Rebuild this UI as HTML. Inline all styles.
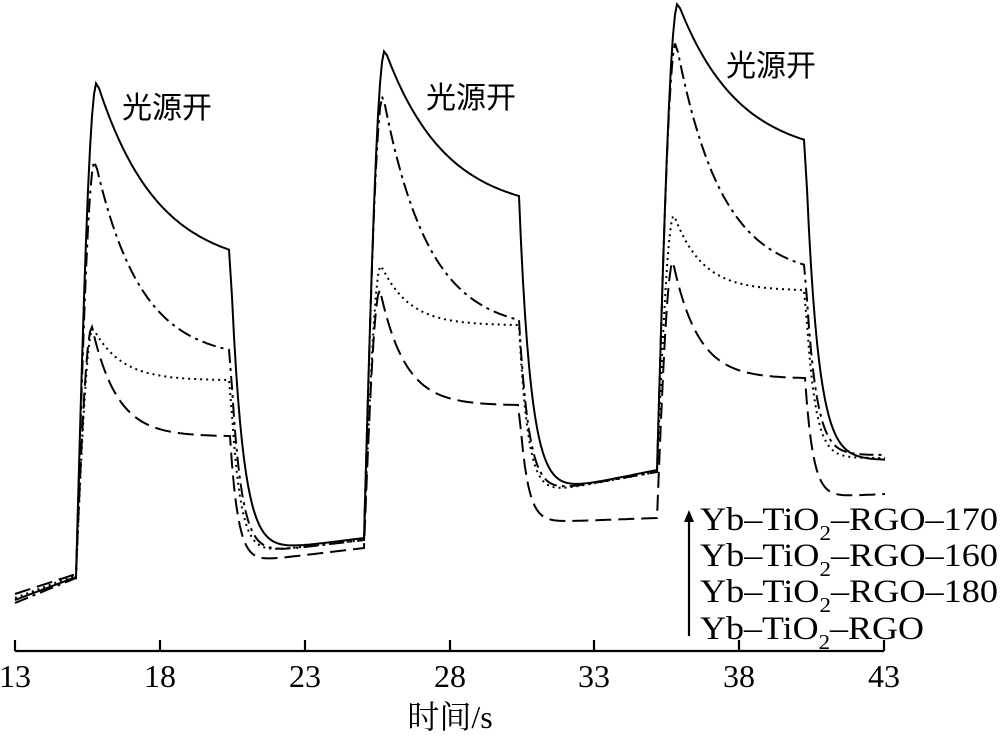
<!DOCTYPE html>
<html><head><meta charset="utf-8"><style>
html,body{margin:0;padding:0;background:#fff}
svg{display:block}
text{font-family:"Liberation Serif","Noto Serif CJK SC",serif;fill:#000}
</style></head><body>
<svg id="s" width="1000" height="742" viewBox="0 0 1000 742" xmlns="http://www.w3.org/2000/svg">
<g stroke="#000" stroke-width="2.2" fill="none">
<path d="M15 651 H884"/>
<path d="M15 651V640M160 651V640M305 651V640M450 651V640M594 651V640M739 651V640M884 651V640"/>
</g>
<g font-size="32" text-anchor="middle">
<text x="15" y="687">13</text><text x="160" y="687">18</text><text x="305" y="687">23</text>
<text x="450" y="687">28</text><text x="594" y="687">33</text><text x="739" y="687">38</text><text x="884" y="687">43</text>
<text x="450" y="728">时间/s</text>
</g>
<g font-size="30">
<text x="122" y="118" style="font-family:'Noto Sans CJK SC',sans-serif">光源开</text>
<text x="426" y="108" style="font-family:'Noto Sans CJK SC',sans-serif">光源开</text>
<text x="726" y="76" style="font-family:'Noto Sans CJK SC',sans-serif">光源开</text>
</g>
<g font-size="33">
<text x="700" y="530" textLength="298" lengthAdjust="spacingAndGlyphs">Yb–TiO<tspan font-size="21" dy="10">2</tspan><tspan dy="-10">–RGO–170</tspan></text>
<text x="700" y="566" textLength="298" lengthAdjust="spacingAndGlyphs">Yb–TiO<tspan font-size="21" dy="10">2</tspan><tspan dy="-10">–RGO–160</tspan></text>
<text x="700" y="602" textLength="298" lengthAdjust="spacingAndGlyphs">Yb–TiO<tspan font-size="21" dy="10">2</tspan><tspan dy="-10">–RGO–180</tspan></text>
<text x="700" y="639" textLength="224" lengthAdjust="spacingAndGlyphs">Yb–TiO<tspan font-size="21" dy="10">2</tspan><tspan dy="-10">–RGO</tspan></text>
</g>
<path d="M689 636V520" stroke="#000" stroke-width="2.2"/>
<path d="M689 510l-5 12h10z" fill="#000"/>
<g id="curves" fill="none" stroke="#000" stroke-width="2"></g>
</svg>
<script>
var on=[76,364,657], off=[230,519,805];
function build(p){
 var pts=[];var x;
 for(x=15;x<=on[0];x+=3)pts.push([x,p.b0+(p.b1-p.b0)*(x-15)/(on[0]-15)]);
 for(var c=0;c<3;c++){
  var o=on[c],f=off[c],pk=p.pk[c],end=p.end[c],pkx=o+p.tp;
  var start=pts[pts.length-1][1];
  for(x=o;x<=pkx;x+=2){var u=(x-o)/(pkx-o);pts.push([x,start+(pk-start)*Math.sin(u*Math.PI/2)]);}
  for(x=pkx+2;x<=f;x+=2){var u=(x-pkx)/p.tau;var y=end+(pk-end)*(Math.exp(-u)-Math.exp(-(f-pkx)/p.tau))/(1-Math.exp(-(f-pkx)/p.tau));pts.push([x,y]);}
  var low=p.low[c],nx=c<2?on[c+1]:885,lowEnd=p.lowEnd[c];
  for(x=f+2;x<=nx;x+=2){var u=(x-f)/p.ft;var base=low+(lowEnd-low)*(x-f)/(nx-f);pts.push([x,base+(end-base)*Math.exp(-u)]);}
 }
 return "M"+pts.map(function(q){return q[0].toFixed(1)+" "+q[1].toFixed(1)}).join("L");
}
var S=[
 {b0:600,b1:577,pk:[82,50,3],end:[250,196,140],low:[555,498,460],lowEnd:[538,470,460],tp:21,tau:60,ft:12,d:""},
 {b0:603,b1:578,pk:[160,95,42],end:[350,320,265],low:[556,496,455],lowEnd:[540,472,455],tp:19,tau:45,ft:10,d:"14 5 3 5"},
 {b0:598,b1:575,pk:[328,265,215],end:[380,325,290],low:[555,497,458],lowEnd:[540,472,458],tp:17,tau:28,ft:9,d:"2 4"},
 {b0:594,b1:574,pk:[327,290,262],end:[436,405,378],low:[564,523,498],lowEnd:[548,518,494],tp:16,tau:25,ft:8,d:"16 7"}
];
var g=document.getElementById("curves");
S.forEach(function(p){var e=document.createElementNS("http://www.w3.org/2000/svg","path");e.setAttribute("d",build(p));if(p.d)e.setAttribute("stroke-dasharray",p.d);g.appendChild(e);});
</script>
</body></html>
